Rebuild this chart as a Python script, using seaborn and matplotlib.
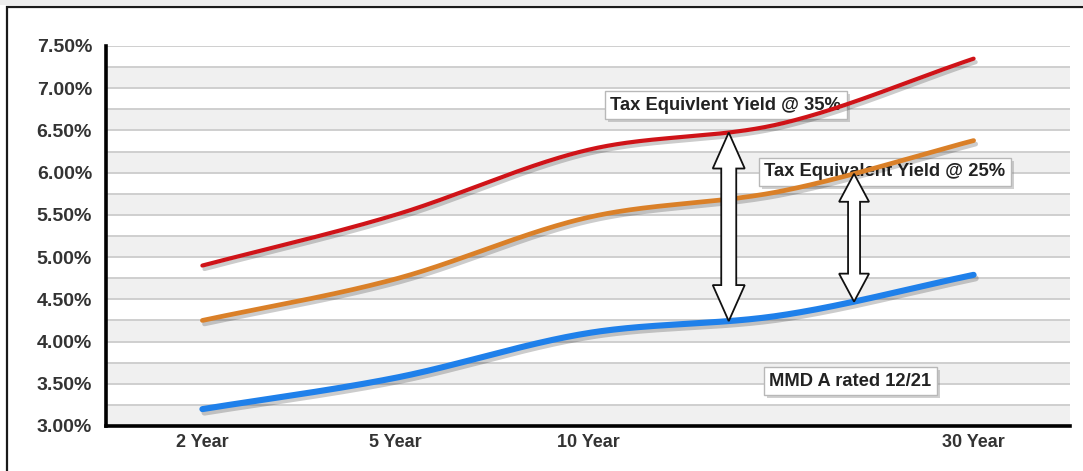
import numpy as np
import pandas as pd
import matplotlib
matplotlib.use("Agg")
import matplotlib.pyplot as plt
import matplotlib.patheffects as pe
from matplotlib.patches import Polygon, Rectangle
from matplotlib.transforms import IdentityTransform
import seaborn as sns

# maturities along the curve (the fourth slot carries no label)
maturities = ["2 Year", "5 Year", "10 Year", "", "30 Year"]
mmd_a = [3.20, 3.57, 4.10, 4.31, 4.79]
tey_25 = [4.25, 4.74, 5.47, 5.78, 6.38]
tey_35 = [4.90, 5.50, 6.27, 6.58, 7.35]

y_ticks = [3.00, 3.50, 4.00, 4.50, 5.00, 5.50, 6.00, 6.50, 7.00, 7.50]

sns.set_style("white")
plt.rcParams["font.family"] = ["Liberation Sans", "DejaVu Sans"]
plt.rcParams["font.weight"] = "bold"


def smooth(ys, n=60):
    """Catmull-Rom style smoothing through evenly spaced category points."""
    ys = np.asarray(ys, dtype=float)
    k = len(ys)
    m = np.empty(k)
    m[0] = ys[1] - ys[0]
    m[-1] = ys[-1] - ys[-2]
    m[1:-1] = (ys[2:] - ys[:-2]) / 2.0
    xs_out, ys_out = [], []
    for i in range(k - 1):
        t = np.linspace(0, 1, n, endpoint=(i == k - 2))
        h00 = 2 * t**3 - 3 * t**2 + 1
        h10 = t**3 - 2 * t**2 + t
        h01 = -2 * t**3 + 3 * t**2
        h11 = t**3 - t**2
        ys_out.append(h00 * ys[i] + h10 * m[i] + h01 * ys[i + 1] + h11 * m[i + 1])
        xs_out.append(i + t)
    return np.concatenate(xs_out), np.concatenate(ys_out)


W, H = 1083, 471
fig = plt.figure(figsize=(W / 100, H / 100), dpi=100)
fig.patch.set_facecolor("white")

# outer frame
fig.patches.append(Rectangle((0, 1 - 5 / H), 1, 5 / H, transform=fig.transFigure,
                             facecolor="#ececec", edgecolor="none", zorder=0))
fig.patches.append(Rectangle((7 / W, -0.2), 1.2, 1.2 - 7 / H, transform=fig.transFigure,
                             facecolor="none", edgecolor="#1a1a1a", linewidth=1.6, zorder=1))

ax = fig.add_axes([106 / W, 45 / H, (1070 - 106) / W, (426 - 46) / H])
ax.set_xlim(-0.5, len(maturities) - 0.5)
ax.set_ylim(3.0, 7.5)

# alternating bands and grid lines
for lo in np.arange(3.0, 7.5, 0.5):
    ax.axhspan(lo, lo + 0.25, color="#f0f0f0", zorder=0, lw=0)
for g in np.arange(3.25, 7.51, 0.25):
    ax.axhline(g, color="#cccccc", lw=1.3, zorder=1)

series = [
    ("Tax Equivalent Yield @ 35%", tey_35, "#cf1318", 3.0),
    ("Tax Equivalent Yield @ 25%", tey_25, "#da8028", 3.4),
    ("MMD A rated 12/21", mmd_a, "#1f80ea", 4.4),
]
curves = {}
for name, vals, color, lw in series:
    sx, sy = smooth(vals)
    curves[name] = (sx, sy)
    df = pd.DataFrame({"pos": sx, "yield": sy})
    sns.lineplot(data=df, x="pos", y="yield", ax=ax, color=color, linewidth=lw,
                 sort=False, legend=False, zorder=3)
    line = ax.lines[-1]
    line.set_solid_capstyle("round")
    line.set_path_effects([pe.SimpleLineShadow(offset=(1.5, -2.5), shadow_color="black", alpha=0.2),
                           pe.Normal()])

# axes styling
for s in ["top", "right"]:
    ax.spines[s].set_visible(False)
for s in ["left", "bottom"]:
    ax.spines[s].set_linewidth(2.6)
    ax.spines[s].set_color("black")
    ax.spines[s].set_zorder(5)
ax.set_yticks(y_ticks)
ax.set_yticklabels([f"{v:.2f}%" for v in y_ticks])
ax.set_xticks(range(len(maturities)))
ax.set_xticklabels(maturities)
ax.tick_params(axis="y", length=7, width=2.4, color="black", pad=3, labelsize=14,
               labelcolor="#333333")
ax.tick_params(axis="x", length=0, pad=6, labelsize=13, labelcolor="#333333")
ax.set_xlabel("")
ax.set_ylabel("")


def curve_at(name, x):
    sx, sy = curves[name]
    return float(np.interp(x, sx, sy))


def double_arrow(x, top_name, bot_name, head_w, head_len, shaft_w):
    xt, yt = ax.transData.transform((x, curve_at(top_name, x)))
    _, yb = ax.transData.transform((x, curve_at(bot_name, x)))
    hw, sw = head_w / 2, shaft_w / 2
    pts = [
        (xt, yt),
        (xt + hw, yt - head_len), (xt + sw, yt - head_len),
        (xt + sw, yb + head_len), (xt + hw, yb + head_len),
        (xt, yb),
        (xt - hw, yb + head_len), (xt - sw, yb + head_len),
        (xt - sw, yt - head_len), (xt - hw, yt - head_len),
    ]
    ax.add_patch(Polygon(pts, closed=True, transform=IdentityTransform(),
                         facecolor="white", edgecolor="#111111", linewidth=1.3, zorder=6))


double_arrow(2.73, "Tax Equivalent Yield @ 35%", "MMD A rated 12/21", 32, 36, 15)
double_arrow(3.38, "Tax Equivalent Yield @ 25%", "MMD A rated 12/21", 30, 28, 12)

# text callouts with drop shadows
callouts = [
    ("Tax Equivlent Yield @ 35%", 2.715, 6.80),
    ("Tax Equivalent Yield @ 25%", 3.54, 6.01),
    ("MMD A rated 12/21", 3.36, 3.53),
]
texts = []
for text, x, y in callouts:
    t = ax.text(x, y, text, ha="center", va="center", fontsize=13.2, fontweight="bold",
                color="#222222", zorder=2.5,
                bbox=dict(boxstyle="square,pad=0.3", fc="white", ec="#b8b8b8", lw=1))
    texts.append(t)

fig.canvas.draw()
renderer = fig.canvas.get_renderer()
for t in texts:
    bb = t.get_bbox_patch().get_window_extent(renderer)
    ax.add_patch(Rectangle((bb.x0 + 3, bb.y0 - 3), bb.width, bb.height,
                           transform=IdentityTransform(), facecolor="#8a8a8a",
                           edgecolor="none", alpha=0.4, zorder=2.2))

fig.savefig("out.png", dpi=100)
